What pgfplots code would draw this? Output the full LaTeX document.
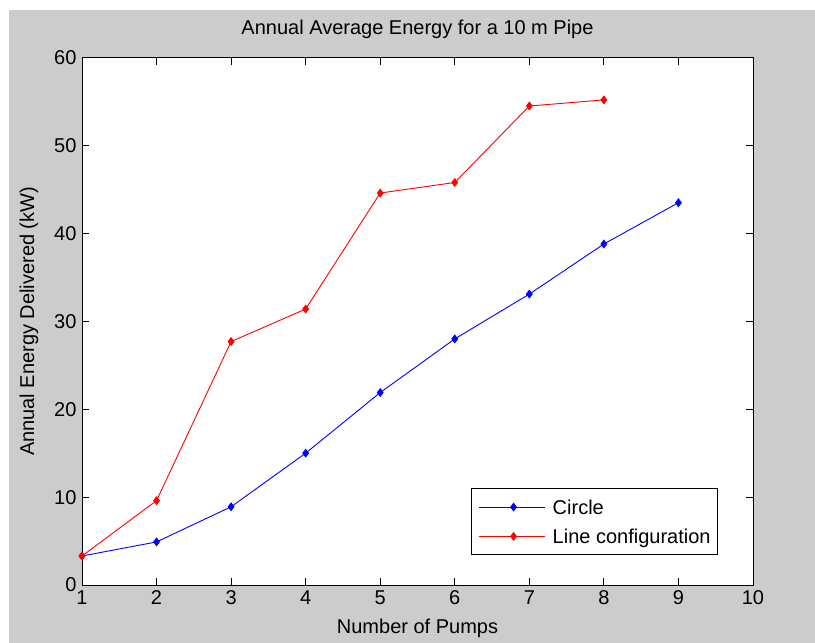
\documentclass[border=0pt]{standalone}
\usepackage{fontspec}
\setmainfont{Liberation Sans}
\usepackage{pgfplots}
\pgfplotsset{compat=1.18}
\definecolor{figgray}{RGB}{204,204,204}
\definecolor{mblue}{RGB}{0,0,255}
\definecolor{mred}{RGB}{255,0,0}

\pgfplotstableread{
x y
1 3.3
2 4.9
3 8.9
4 15.0
5 21.9
6 28.0
7 33.1
8 38.8
9 43.5
}\circledata

\pgfplotstableread{
x y
1 3.3
2 9.6
3 27.7
4 31.4
5 44.6
6 45.8
7 54.5
8 55.2
}\linedata

\begin{document}
\begin{tikzpicture}
\fill[white] (-82bp,-58bp) rectangle (733bp,585bp);
\fill[figgray] (-73bp,-58bp) rectangle (733bp,575bp);
\begin{axis}[
  at={(0bp,0bp)}, anchor=south west,
  scale only axis, width=671bp, height=527.3bp,
  xmin=1, xmax=10, ymin=0, ymax=60,
  xtick={1,2,...,10}, ytick={0,10,...,60},
  axis background/.style={fill=white},
  tick align=inside, major tick length=7bp,
  tick style={black, line width=0.8bp},
  axis line style={black, line width=0.8bp},
  font=\fontsize{20bp}{24bp}\selectfont,
  /pgf/number format/assume math mode=true,
  xticklabel style={yshift=-2bp},
  yticklabel style={xshift=-2bp},
  title={Annual Average Energy for a 10 m Pipe},
  title style={at={(0.5,1.0322)}, anchor=base, inner sep=0pt},
  xlabel={Number of Pumps},
  xlabel style={at={(0.5,-0.0929)}, anchor=base, inner sep=0pt},
  ylabel={Annual Energy Delivered (kW)},
  ylabel style={at={(-0.0715,0.5)}, anchor=base, inner sep=0pt},
  legend cell align=left,
  legend style={at={(0.9474,0.0569)}, anchor=south east,
    draw=black, line width=0.8bp, fill=white,
    inner xsep=6.7bp, inner ysep=5bp, column sep=7.7bp, row sep=2.9bp,
    nodes={inner xsep=0pt, inner ysep=0pt, text height=20.4bp, text depth=6bp}},
  legend image code/.code={%
    \path (-4bp,0bp) -- (62bp,0bp);
    \draw[mark repeat=2, mark phase=2] plot coordinates {(0bp,0bp) (31bp,0bp) (62bp,0bp)};
  },
]
\addplot[mblue, line width=0.9bp, mark=diamond*, mark size=3.8bp] table {\circledata};
\addlegendentry{Circle}
\addplot[mred, line width=0.9bp, mark=diamond*, mark size=3.8bp] table {\linedata};
\addlegendentry{Line configuration}
\end{axis}
\end{tikzpicture}
\end{document}
